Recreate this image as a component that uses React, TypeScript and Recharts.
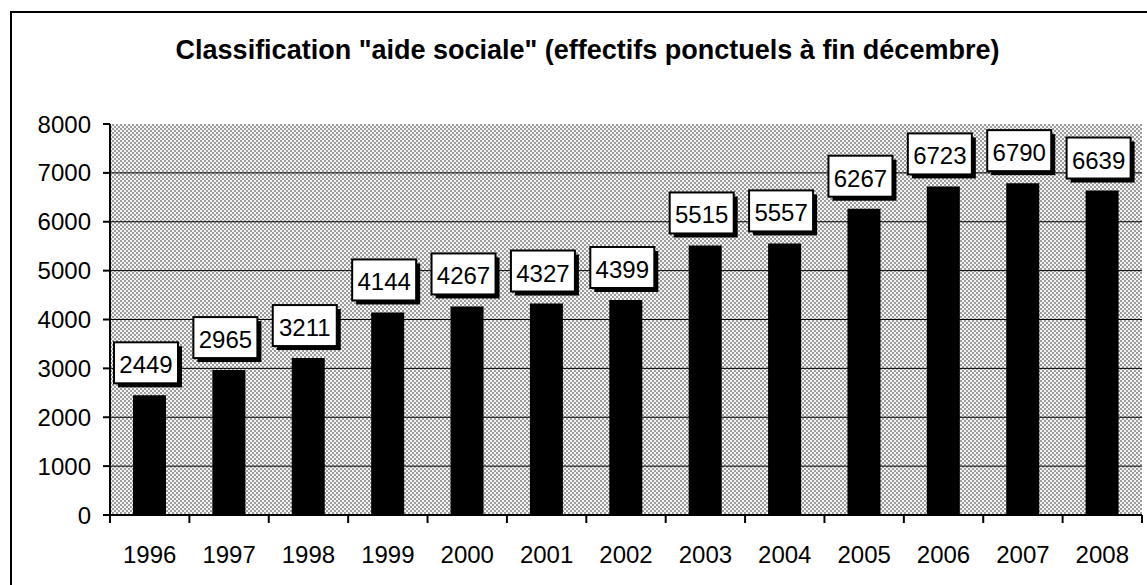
import React from 'react';
import { BarChart, Bar, XAxis, YAxis, CartesianGrid, LabelList } from 'recharts';

const years = ['1996', '1997', '1998', '1999', '2000', '2001', '2002', '2003', '2004', '2005', '2006', '2007', '2008'];
const effectifs = [2449, 2965, 3211, 4144, 4267, 4327, 4399, 5515, 5557, 6267, 6723, 6790, 6639];
const yTicks = [0, 1000, 2000, 3000, 4000, 5000, 6000, 7000, 8000];
const gridValues = [1000, 2000, 3000, 4000, 5000, 6000, 7000];

const data = years.map((year, i) => ({ year, value: effectifs[i] }));

const FONT = "Arial, 'Liberation Sans', sans-serif";
const CHART_W = 1147;
const CHART_H = 585;
const MARGIN = { top: 124, right: 5, bottom: 30, left: 10 };
const Y_AXIS_W = 100;
const X_AXIS_H = 40;
const PLOT_W = CHART_W - MARGIN.left - MARGIN.right - Y_AXIS_W;
const BAND = PLOT_W / years.length;

// year labels sit mid-band, tick marks go on the band boundaries
const YearTick = (props: any) => {
  const { x, y, payload, index } = props;
  const left = x - BAND / 2;
  const last = index === years.length - 1;
  return (
    <g>
      <line x1={left} y1={y} x2={left} y2={y + 8} stroke="#000" strokeWidth={2} />
      {last && <line x1={x + BAND / 2} y1={y} x2={x + BAND / 2} y2={y + 8} stroke="#000" strokeWidth={2} />}
      <text x={x} y={y + 48} textAnchor="middle" fontSize={24} fontFamily={FONT} fill="#000">
        {payload.value}
      </text>
    </g>
  );
};

// boxed value label with a drop shadow, floating above each bar
const ValueBox = (props: any) => {
  const { x, y, width, value } = props;
  const w = 64;
  const h = 41;
  const cx = x + width / 2 - 3.5;
  const bottom = y - 12;
  const left = cx - w / 2;
  const top = bottom - h;
  return (
    <g>
      <rect x={left + 4} y={top + 4} width={w} height={h} fill="#000" />
      <rect x={left} y={top} width={w} height={h} fill="#fff" stroke="#000" strokeWidth={2} />
      <text x={cx} y={top + h / 2 + 2} textAnchor="middle" dominantBaseline="central" fontSize={24} fontFamily={FONT} fill="#000">
        {value}
      </text>
    </g>
  );
};

export default function App() {
  return (
    <div style={{ position: 'absolute', left: 0, top: 0, width: CHART_W, height: CHART_H, overflow: 'hidden', background: '#fff' }}>
      <div
        style={{
          position: 'absolute',
          left: 10,
          top: 11,
          width: 1160,
          height: 600,
          border: '2px solid #000',
          boxSizing: 'border-box',
        }}
      />
      <div
        style={{
          position: 'absolute',
          left: 0,
          top: 37,
          width: 1175,
          textAlign: 'center',
          fontFamily: FONT,
          fontWeight: 'bold',
          fontSize: 27,
          lineHeight: '27px',
          color: '#000',
          whiteSpace: 'nowrap',
        }}
      >
        Classification "aide sociale" (effectifs ponctuels à fin décembre)
      </div>
      <div style={{ position: 'absolute', left: 0, top: 0 }}>
        <BarChart width={CHART_W} height={CHART_H} data={data} margin={MARGIN}>
          <defs>
            <pattern id="dither" width="4" height="4" patternUnits="userSpaceOnUse">
              <rect width="4" height="4" fill="#f4f4f4" />
              <rect width="2" height="2" fill="#9c9c9c" />
              <rect x="2" y="2" width="2" height="2" fill="#9c9c9c" />
            </pattern>
          </defs>
          <CartesianGrid
            vertical={false}
            horizontalValues={gridValues}
            stroke="#000"
            strokeWidth={1}
            fill="url(#dither)"
            fillOpacity={1}
          />
          <XAxis
            dataKey="year"
            height={X_AXIS_H}
            interval={0}
            axisLine={{ stroke: '#000', strokeWidth: 2 }}
            tickLine={false}
            tickSize={0}
            tickMargin={0}
            tick={<YearTick />}
          />
          <YAxis
            width={Y_AXIS_W}
            domain={[0, 8000]}
            ticks={yTicks}
            interval={0}
            axisLine={{ stroke: '#000', strokeWidth: 2 }}
            tickLine={{ stroke: '#000', strokeWidth: 2 }}
            tickSize={7}
            tickMargin={12}
            tick={{ fill: '#000', fontSize: 24, fontFamily: FONT }}
          />
          <Bar dataKey="value" fill="#000" barSize={33} isAnimationActive={false}>
            <LabelList dataKey="value" content={<ValueBox />} />
          </Bar>
        </BarChart>
      </div>
    </div>
  );
}
